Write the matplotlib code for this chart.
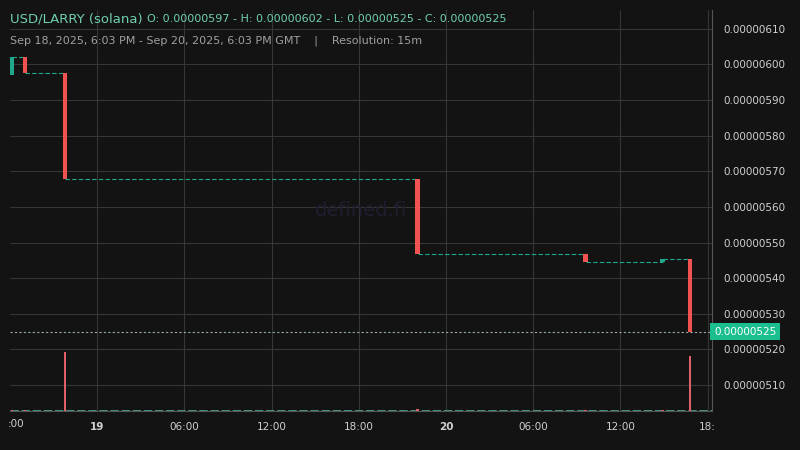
import matplotlib.pyplot as plt
import numpy as np

# hours since Sep 18 00:00
t = [18.14, 19.03, 21.78, 46.04, 57.6, 62.9, 64.8]
opens = [5.97e-6, 6.02e-6, 5.976e-6, 5.679e-6, 5.468e-6, 5.445e-6, 5.455e-6]
closes = [6.02e-6, 5.976e-6, 5.679e-6, 5.468e-6, 5.445e-6, 5.455e-6, 5.25e-6]
volume = [0.01, 0.01, 1.0, 0.03, 0.01, 0.01, 0.94]
yticks = [5.1e-6, 5.2e-6, 5.3e-6, 5.4e-6, 5.5e-6, 5.6e-6, 5.7e-6, 5.8e-6, 5.9e-6, 6.0e-6, 6.1e-6]
xticks = [24, 30, 36, 42, 48, 54, 60, 66]
xlabels = ["19", "06:00", "12:00", "18:00", "20", "06:00", "12:00", "18:"]
last = 5.25e-6
ylo, yhi = 5.027e-6, 6.153e-6

bg = "#131313"
green = "#1fa88a"
red = "#f05350"
fig = plt.figure(figsize=(8, 4.5), dpi=100, facecolor=bg)
ax = fig.add_axes([10 / 800, 39 / 450, 702 / 800, 401 / 450], facecolor=bg)
vax = ax.twinx()
vax.set_position(ax.get_position())

for i in range(len(t)):
    c = green if closes[i] >= opens[i] else red
    lo, hi = sorted([opens[i], closes[i]])
    ax.bar(t[i], hi - lo, bottom=lo, width=0.3, color=c, zorder=3)
    if i + 1 < len(t):
        ax.plot([t[i], t[i + 1]], [closes[i], closes[i]], color=green, lw=0.8, ls=(0, (4, 2)), zorder=2)
    vax.bar(t[i], volume[i], width=0.15, color="#e0606a", zorder=3)

ax.axhline(last, color="#9aa", lw=0.8, ls=(0, (2, 2)))
ax.set_xlim(18, 66.3)
ax.set_ylim(ylo, yhi)
vax.set_ylim(0, 6.8)
vax.set_yticks([])
vax.axhline(0.0, color="#4a9a90", lw=2, ls=(0, (3, 1)))

ax.yaxis.tick_right()
ax.set_yticks(yticks)
ax.set_yticklabels([f"{v:.8f}" for v in yticks])
ax.set_xticks(xticks)
ax.set_xticklabels(xlabels)
for lbl, txt in zip(ax.get_xticklabels(), xlabels):
    if txt in ("19", "20"):
        lbl.set_fontweight("bold")
ax.tick_params(colors="#d0d0d0", labelsize=7.5, length=0, pad=8)
ax.tick_params(axis="y", pad=8)
ax.grid(color="#363636", lw=0.8)
for s in ["top", "left"]:
    ax.spines[s].set_visible(False)
for s in vax.spines.values():
    s.set_visible(False)
ax.spines["right"].set_color("#555555")
ax.spines["bottom"].set_color("#555555")
fig.text(8 / 800, 1 - 424 / 450, ":00", color="#d0d0d0", fontsize=7.5, va="center")

ax.text(1.003, (last - ylo) / (yhi - ylo), f"{last:.8f}", transform=ax.transAxes,
        color="white", fontsize=7.5, va="center", ha="left",
        bbox=dict(boxstyle="square,pad=0.35", fc="#1bbf8f", ec="none"))
ax.text(0.5, 0.5, "defined.fi", transform=ax.transAxes, color="#1e1e30", fontsize=14,
        ha="center", va="center")

fig.text(10 / 800, 1 - 19 / 450, "USD/LARRY (solana)", color="#6fcfb0", fontsize=9.5, va="center")
fig.text(147 / 800, 1 - 19 / 450, "O: 0.00000597 - H: 0.00000602 - L: 0.00000525 - C: 0.00000525",
         color="#6fcfb0", fontsize=8, va="center")
fig.text(10 / 800, 1 - 41 / 450,
         "Sep 18, 2025, 6:03 PM - Sep 20, 2025, 6:03 PM GMT    |    Resolution: 15m",
         color="#a0a0a0", fontsize=8, va="center")

fig.savefig("out.png", dpi=100, facecolor=bg)
